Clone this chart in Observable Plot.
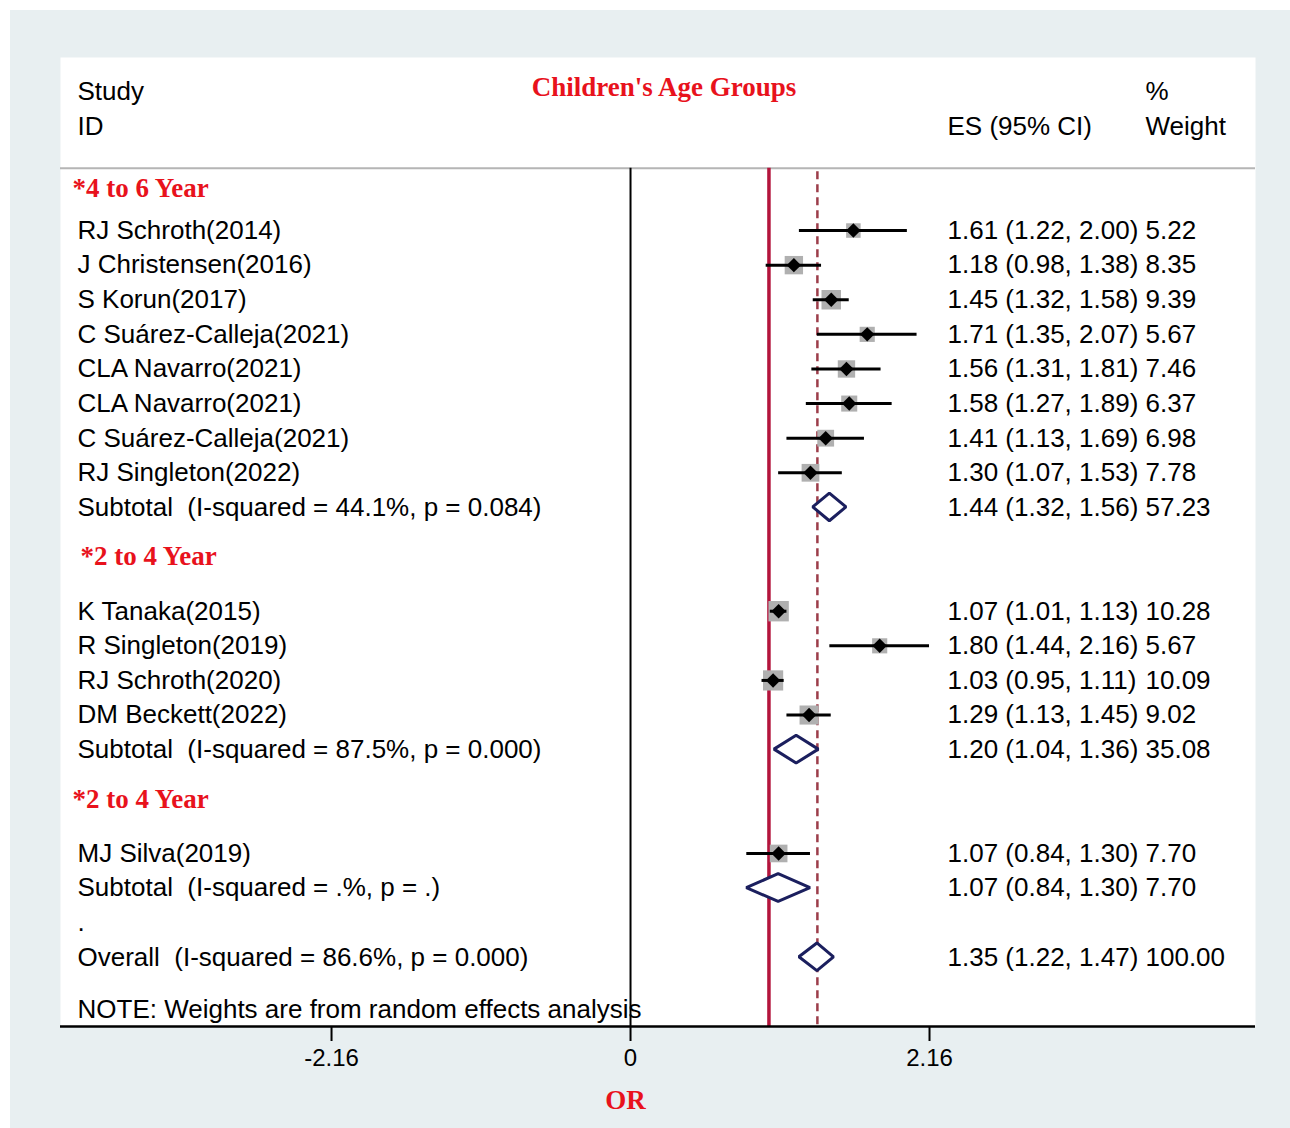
<!DOCTYPE html>
<html><head><meta charset="utf-8">
<script src="https://cdn.jsdelivr.net/npm/d3@7"></script>
<script src="https://cdn.jsdelivr.net/npm/@observablehq/plot@0.6"></script>
<style>
html,body{margin:0;padding:0;background:#ffffff;}
#wrap{position:absolute;left:10px;top:10px;width:1280px;height:1118px;background:#e8eff1;}
#wrap svg text{white-space:pre;}
</style></head><body><div id="wrap"></div>
<script>
// ---------- data ----------
const titleText = "Children's Age Groups";
const groupLabels = ["*4 to 6 Year", "*2 to 4 Year", "*2 to 4 Year"];
const studyNames = [
  "RJ Schroth(2014)", "J Christensen(2016)", "S Korun(2017)", "C Suárez-Calleja(2021)",
  "CLA Navarro(2021)", "CLA Navarro(2021)", "C Suárez-Calleja(2021)", "RJ Singleton(2022)",
  "K Tanaka(2015)", "R Singleton(2019)", "RJ Schroth(2020)", "DM Beckett(2022)",
  "MJ Silva(2019)"
];
const studyGroup  = [0,0,0,0,0,0,0,0, 1,1,1,1, 2];
const studyES     = [1.61,1.18,1.45,1.71,1.56,1.58,1.41,1.30, 1.07,1.80,1.03,1.29, 1.07];
const studyLo     = [1.22,0.98,1.32,1.35,1.31,1.27,1.13,1.07, 1.01,1.44,0.95,1.13, 0.84];
const studyHi     = [2.00,1.38,1.58,2.07,1.81,1.89,1.69,1.53, 1.13,2.16,1.11,1.45, 1.30];
const studyWeight = [5.22,8.35,9.39,5.67,7.46,6.37,6.98,7.78, 10.28,5.67,10.09,9.02, 7.70];
const subtotalLabels = [
  "Subtotal  (I-squared = 44.1%, p = 0.084)",
  "Subtotal  (I-squared = 87.5%, p = 0.000)",
  "Subtotal  (I-squared = .%, p = .)"
];
const subtotalES     = [1.44, 1.20, 1.07];
const subtotalLo     = [1.32, 1.04, 0.84];
const subtotalHi     = [1.56, 1.36, 1.30];
const subtotalWeight = [57.23, 35.08, 7.70];
const overallLabel  = "Overall  (I-squared = 86.6%, p = 0.000)";
const overallES = 1.35, overallLo = 1.22, overallHi = 1.47, overallWeight = 100.00;
const noteText = "NOTE: Weights are from random effects analysis";
const headerLeft = ["Study", "ID"];
const headerES = "ES (95% CI)";
const headerWeight = ["%", "Weight"];
const xTicks = [-2.16, 0, 2.16];
const nullValue = 1;
const xLabel = "OR";

// ---------- layout (rows) ----------
const studies = [], subs = [], heads = [];
let r = 0;
groupLabels.forEach((g, gi) => {
  heads.push({row: r, label: g, gi}); r++;
  studyNames.forEach((n, i) => {
    if (studyGroup[i] === gi) {
      studies.push({row: r, label: n, es: studyES[i], lo: studyLo[i], hi: studyHi[i], w: studyWeight[i]});
      r++;
    }
  });
  subs.push({row: r, label: subtotalLabels[gi], es: subtotalES[gi], lo: subtotalLo[gi], hi: subtotalHi[gi], w: subtotalWeight[gi]});
  r++;
  r++; // blank row
});
const dotRow = r - 1;
const overall = {row: r, label: overallLabel, es: overallES, lo: overallLo, hi: overallHi, w: overallWeight};
const noteRow = r + 1.5;
const yTop = -4, yBottom = r + 2, sepRow = -0.8;

const textRows = [...studies, ...subs, overall];
const fmt = v => v.toFixed(2);
const esText = d => `${fmt(d.es)} (${fmt(d.lo)}, ${fmt(d.hi)})`;

const diamonds = [];
[...subs, overall].forEach((d, k) => {
  diamonds.push({k, y: d.row - 0.4, x1: d.es, x2: d.es});
  diamonds.push({k, y: d.row, x1: d.lo, x2: d.hi});
  diamonds.push({k, y: d.row + 0.4, x1: d.es, x2: d.es});
});

const headDy = [-8, -20, -19];
const headDx = [12, 20, 12];

const SANS = "'Liberation Sans', Arial, Helvetica, sans-serif";
const SERIF = "'Liberation Serif', 'Times New Roman', serif";
const RED = "#e8121c";
const FS = 26;

const chart = Plot.plot({
  width: 1280,
  height: 1118,
  marginLeft: 50,
  marginRight: 35,
  marginTop: 47,
  marginBottom: 102,
  style: {background: "transparent", fontFamily: SANS, color: "black", overflow: "visible"},
  x: {domain: [-4.118, 4.515], axis: null},
  y: {domain: [yTop, yBottom], reverse: true, axis: null},
  r: {type: "sqrt", domain: [0, 10.28], range: [0, 11.5]},
  marks: [
    Plot.frame({fill: "white", stroke: "none"}),
    Plot.ruleY([sepRow], {stroke: "#b5b5b5", strokeWidth: 2}),
    Plot.ruleX([0], {y1: sepRow, y2: yBottom, stroke: "black", strokeWidth: 2}),
    Plot.ruleX([nullValue], {y1: sepRow, y2: yBottom, stroke: "#b3143c", strokeWidth: 3.5}),
    Plot.ruleX([overallES], {y1: sepRow + 0.1, y2: yBottom, stroke: "#9c3d4a", strokeWidth: 2.5, strokeDasharray: "8,5"}),
    // weight squares
    Plot.dot(studies, {x: "es", y: "row", r: "w", symbol: "square", fill: "#b0b0b0", stroke: "none"}),
    // CI lines
    Plot.ruleY(studies, {y: "row", x1: "lo", x2: "hi", stroke: "black", strokeWidth: 3}),
    // point estimates
    Plot.dot(studies, {x: "es", y: "row", r: 6.5, symbol: "diamond2", fill: "black", stroke: "none"}),
    // pooled diamonds
    Plot.areaX(diamonds, {y: "y", x1: "x1", x2: "x2", z: "k", fill: "white", stroke: "#1b1f5e", strokeWidth: 3, curve: "linear", strokeLinejoin: "miter"}),
    // axis
    Plot.ruleY([yBottom], {stroke: "black", strokeWidth: 2.5}),
    Plot.axisX(xTicks, {tickSize: 15, tickPadding: 7, fontSize: 24, strokeWidth: 2, tickFormat: d => d === 0 ? "0" : d.toFixed(2), label: null}),
    Plot.text([{x: 0, t: xLabel}], {x: "x", text: "t", frameAnchor: "bottom", lineAnchor: "middle", dy: 74, dx: -5, fontFamily: SERIF, fontWeight: "bold", fontSize: 27, fill: RED}),
    // header
    Plot.text([titleText], {frameAnchor: "top", lineAnchor: "middle", dy: 30, dx: 6, fontFamily: SERIF, fontWeight: "bold", fontSize: 27, fill: RED}),
    Plot.text(headerLeft.map((t, i) => ({t, row: -3 + i})), {y: "row", text: "t", frameAnchor: "left", dx: 17, textAnchor: "start", fontSize: FS, fill: "black"}),
    Plot.text([{t: headerES, row: -2}], {y: "row", text: "t", frameAnchor: "right", dx: -308, textAnchor: "start", fontSize: FS, fill: "black"}),
    Plot.text(headerWeight.map((t, i) => ({t, row: -3 + i})), {y: "row", text: "t", frameAnchor: "right", dx: -110, textAnchor: "start", fontSize: FS, fill: "black"}),
    // group headers
    ...heads.map(h => Plot.text([h], {y: "row", text: "label", frameAnchor: "left", dx: headDx[h.gi], dy: headDy[h.gi], textAnchor: "start", fontFamily: SERIF, fontWeight: "bold", fontSize: 27, fill: RED})),
    // labels
    Plot.text(textRows, {y: "row", text: "label", frameAnchor: "left", dx: 17, textAnchor: "start", fontSize: FS, fill: "black"}),
    Plot.text([{t: ".", row: dotRow}], {y: "row", text: "t", frameAnchor: "left", dx: 17, textAnchor: "start", fontSize: FS, fill: "black"}),
    Plot.text([{t: noteText, row: noteRow}], {y: "row", text: "t", frameAnchor: "left", dx: 17, textAnchor: "start", fontSize: FS, fill: "black"}),
    Plot.text(textRows, {y: "row", text: esText, frameAnchor: "right", dx: -308, textAnchor: "start", fontSize: FS, fill: "black"}),
    Plot.text(textRows, {y: "row", text: d => fmt(d.w), frameAnchor: "right", dx: -110, textAnchor: "start", fontSize: FS, fill: "black"})
  ]
});
document.getElementById("wrap").appendChild(chart);
</script>
</body></html>
